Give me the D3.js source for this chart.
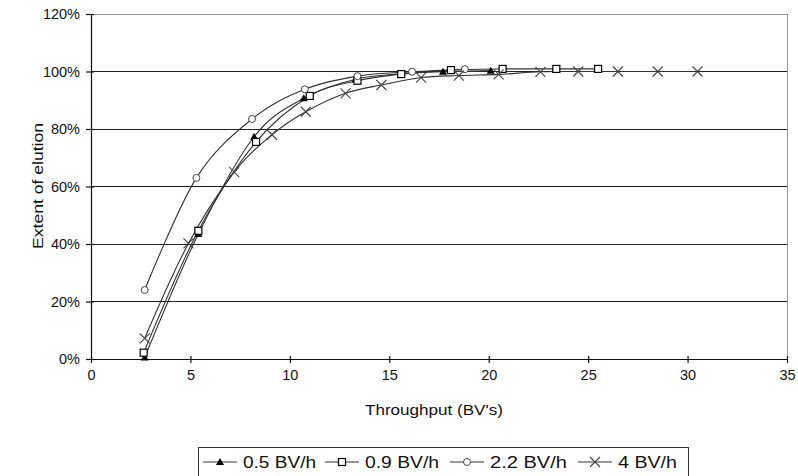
<!DOCTYPE html>
<html><head><meta charset="utf-8">
<script src="https://cdn.jsdelivr.net/npm/d3@7"></script>
<style>body{margin:0;background:#fff}svg{display:block}text{font-family:"Liberation Sans",Arial,sans-serif;fill:#111}</style>
</head><body><svg id="c" width="798" height="476"></svg>
<script>
const seriesNames = ["0.5 BV/h", "0.9 BV/h", "2.2 BV/h", "4 BV/h"];
const xTicks = [0, 5, 10, 15, 20, 25, 30, 35];
const yTicks = [0, 20, 40, 60, 80, 100, 120];
const s05x = [2.7, 5.4, 8.2, 10.7, 13.3, 15.6, 17.7, 20.1];
const s05y = [0.5, 43.5, 77.3, 90.7, 97.3, 99.2, 99.9, 100.3];
const s09x = [2.65, 5.4, 8.3, 11.0, 13.4, 15.6, 18.1, 20.7, 23.4, 25.5];
const s09y = [2.2, 44.6, 75.5, 91.5, 96.8, 99.1, 100.5, 100.9, 100.9, 100.9];
const s22x = [2.7, 5.3, 8.1, 10.75, 13.4, 16.15, 18.8];
const s22y = [24, 63, 83.5, 93.8, 98.4, 99.9, 100.8];
const s4x = [2.7, 4.9, 7.2, 9.1, 10.8, 12.8, 14.6, 16.6, 18.5, 20.5, 22.6, 24.5, 26.5, 28.5, 30.5];
const s4y = [7.2, 40.2, 65, 78, 86, 92.4, 95.3, 97.9, 98.6, 99, 99.9, 100, 100, 100, 100];

const svg = d3.select("#c");
const L = 91, R = 787, T = 14, B = 359;
const x = d3.scaleLinear().domain([0, 35]).range([L, R]);
const y = d3.scaleLinear().domain([0, 120]).range([B, T]);

// gridlines
svg.append("g").selectAll("line").data(yTicks.filter(d => d > 0 && d < 120)).join("line")
  .attr("x1", L).attr("x2", R).attr("y1", d => y(d)).attr("y2", d => y(d))
  .attr("stroke", "#222").attr("stroke-width", 1).attr("shape-rendering", "crispEdges");
// border top/right
svg.append("path").attr("d", `M${L},${T}H${R}V${B}`).attr("fill", "none")
  .attr("stroke", "#999").attr("stroke-width", 1).attr("shape-rendering", "crispEdges");

// axes
const xAxis = d3.axisBottom(x).tickValues(xTicks).tickSize(3).tickSizeOuter(0).tickPadding(8);
const gx = svg.append("g").attr("transform", `translate(0,${B})`).call(xAxis);
gx.selectAll(".tick line").attr("y1", -3).attr("y2", 4);
const yAxis = d3.axisLeft(y).tickValues(yTicks).tickFormat(d => d + "%").tickSize(5).tickSizeOuter(0).tickPadding(6);
const gy = svg.append("g").attr("transform", `translate(${L},0)`).call(yAxis);
gy.selectAll(".tick line").attr("x1", -5).attr("x2", 3);
[gx, gy].forEach(g => {
  g.select(".domain").attr("stroke", "#111").attr("stroke-width", 1.2);
  g.selectAll(".tick line").attr("stroke", "#111").attr("stroke-width", 1.2);
  g.selectAll("text").style("font-size", "14.5px").attr("fill", "#111").style("font-family", "Liberation Sans, Arial, sans-serif");
});

svg.append("text").attr("x", 434).attr("y", 415).attr("text-anchor", "middle")
  .style("font-size", "15px").attr("textLength", 138).attr("lengthAdjust", "spacingAndGlyphs")
  .text("Throughput (BV's)");
svg.append("text").attr("transform", "translate(43,186) rotate(-90)").attr("text-anchor", "middle")
  .style("font-size", "15px").attr("textLength", 126).attr("lengthAdjust", "spacingAndGlyphs")
  .text("Extent of elution");

const data = [
  {name: seriesNames[0], xs: s05x, ys: s05y, m: "tri"},
  {name: seriesNames[1], xs: s09x, ys: s09y, m: "sq"},
  {name: seriesNames[2], xs: s22x, ys: s22y, m: "circ"},
  {name: seriesNames[3], xs: s4x, ys: s4y, m: "x"}
];
const line = d3.line().x(d => x(d[0])).y(d => y(d[1])).curve(d3.curveCardinal.tension(0));
data.forEach(s => {
  const pts = s.xs.map((v, i) => [v, s.ys[i]]);
  svg.append("path").attr("d", line(pts)).attr("fill", "none").attr("stroke", "#333").attr("stroke-width", 1.1);
});

function marker(g, type, cx, cy) {
  if (type === "tri") g.append("path").attr("d", `M${cx},${cy-4}L${cx+4},${cy+3}L${cx-4},${cy+3}Z`).attr("fill", "#000");
  else if (type === "sq") g.append("rect").attr("x", cx-3.5).attr("y", cy-3.5).attr("width", 7).attr("height", 7).attr("fill", "#fff").attr("stroke", "#000").attr("stroke-width", 1.2);
  else if (type === "circ") g.append("circle").attr("cx", cx).attr("cy", cy).attr("r", 3.5).attr("fill", "#fff").attr("stroke", "#444").attr("stroke-width", 1);
  else g.append("path").attr("d", `M${cx-5},${cy-5}L${cx+5},${cy+5}M${cx-5},${cy+5}L${cx+5},${cy-5}`).attr("stroke", "#444").attr("stroke-width", 1.1);
}
data.forEach(s => {
  const g = svg.append("g");
  s.xs.forEach((v, i) => marker(g, s.m, x(v), y(s.ys[i])));
});

// legend
const lg = svg.append("g");
lg.append("rect").attr("x", 198.5).attr("y", 447.5).attr("width", 490).attr("height", 40)
  .attr("fill", "#fff").attr("stroke", "#333").attr("stroke-width", 1);
const legX = [203, 325, 450, 578];
const legW = [73, 74, 77, 59];
data.forEach((s, i) => {
  const x0 = legX[i], cy = 462;
  lg.append("line").attr("x1", x0).attr("x2", x0 + 34).attr("y1", cy).attr("y2", cy).attr("stroke", "#333").attr("stroke-width", 1.1);
  marker(lg, s.m, x0 + 17, cy);
  lg.append("text").attr("x", x0 + 40).attr("y", 468).style("font-size", "16px")
    .attr("textLength", legW[i]).attr("lengthAdjust", "spacingAndGlyphs").text(s.name);
});
</script></body></html>
